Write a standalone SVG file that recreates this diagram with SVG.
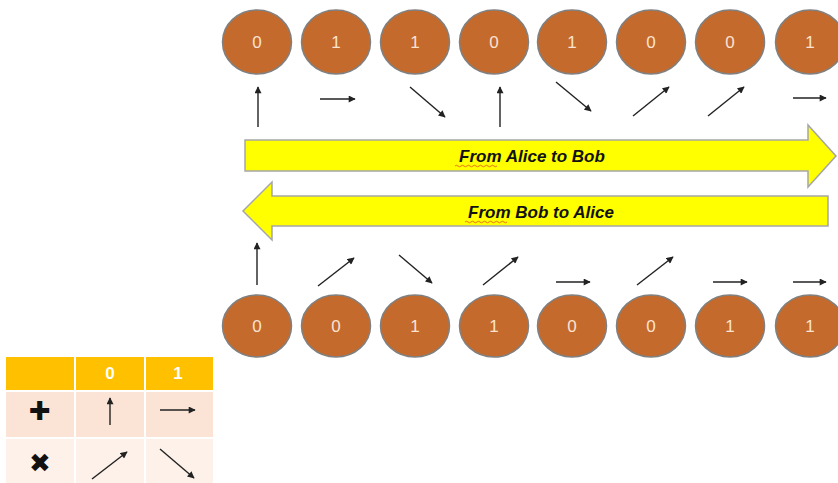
<svg xmlns="http://www.w3.org/2000/svg" width="838" height="483" viewBox="0 0 838 483">
<style>
.bit ellipse{fill:#C46A2C;stroke:#808080;stroke-width:1.5}
.bit text{font-family:"Liberation Sans",Arial,sans-serif;font-size:17px;fill:#FBE3D2;text-anchor:middle;dominant-baseline:central}
.pol line{stroke:#222;stroke-width:1.4;marker-end:url(#ah)}
.band{fill:#FFFF00;stroke:#A6A6A6;stroke-width:1.5}
.lbl{font-family:"Liberation Sans",Arial,sans-serif;font-weight:bold;font-style:italic;font-size:17px;fill:#111;text-anchor:middle}
.squig{fill:none;stroke:#E05020;stroke-width:0.8}
.hd{font-family:"Liberation Sans",Arial,sans-serif;font-weight:bold;font-size:17px;fill:#fff;text-anchor:middle}
.sym{font-family:"DejaVu Sans",sans-serif;font-size:26px;fill:#111;text-anchor:middle;dominant-baseline:central}
</style>
<defs>
<marker id="ah" viewBox="0 0 10 10" refX="9" refY="5" markerWidth="8" markerHeight="7" markerUnits="userSpaceOnUse" orient="auto">
<path d="M0,0 L10,5 L0,10 Z" fill="#222"/>
</marker>
</defs>
<rect width="838" height="483" fill="#fff"/>

<g id="alice-bits">
<g id="a1" class="bit"><ellipse cx="257" cy="42" rx="34.5" ry="32"/><text x="257" y="42">0</text></g>
<g id="a2" class="bit"><ellipse cx="336" cy="42" rx="34.5" ry="32"/><text x="336" y="42">1</text></g>
<g id="a3" class="bit"><ellipse cx="415" cy="42" rx="34.5" ry="32"/><text x="415" y="42">1</text></g>
<g id="a4" class="bit"><ellipse cx="494" cy="42" rx="34.5" ry="32"/><text x="494" y="42">0</text></g>
<g id="a5" class="bit"><ellipse cx="572" cy="42" rx="34.5" ry="32"/><text x="572" y="42">1</text></g>
<g id="a6" class="bit"><ellipse cx="651" cy="42" rx="34.5" ry="32"/><text x="651" y="42">0</text></g>
<g id="a7" class="bit"><ellipse cx="730" cy="42" rx="34.5" ry="32"/><text x="730" y="42">0</text></g>
<g id="a8" class="bit"><ellipse cx="810" cy="42" rx="34.5" ry="32"/><text x="810" y="42">1</text></g>
</g>

<g id="bob-bits">
<g id="b1" class="bit"><ellipse cx="257" cy="326" rx="34.5" ry="31"/><text x="257" y="326">0</text></g>
<g id="b2" class="bit"><ellipse cx="336" cy="326" rx="34.5" ry="31"/><text x="336" y="326">0</text></g>
<g id="b3" class="bit"><ellipse cx="415" cy="326" rx="34.5" ry="31"/><text x="415" y="326">1</text></g>
<g id="b4" class="bit"><ellipse cx="494" cy="326" rx="34.5" ry="31"/><text x="494" y="326">1</text></g>
<g id="b5" class="bit"><ellipse cx="572" cy="326" rx="34.5" ry="31"/><text x="572" y="326">0</text></g>
<g id="b6" class="bit"><ellipse cx="651" cy="326" rx="34.5" ry="31"/><text x="651" y="326">0</text></g>
<g id="b7" class="bit"><ellipse cx="730" cy="326" rx="34.5" ry="31"/><text x="730" y="326">1</text></g>
<g id="b8" class="bit"><ellipse cx="810" cy="326" rx="34.5" ry="31"/><text x="810" y="326">1</text></g>
</g>

<g id="polarizations" class="pol">
<line x1="258" y1="127" x2="258" y2="87"/>
<line x1="320" y1="99" x2="355" y2="99"/>
<line x1="410" y1="87" x2="445" y2="117"/>
<line x1="500" y1="127" x2="500" y2="87"/>
<line x1="556" y1="82" x2="591" y2="111"/>
<line x1="633" y1="116" x2="669" y2="87"/>
<line x1="708" y1="116" x2="744" y2="87"/>
<line x1="793" y1="98" x2="826" y2="98"/>

<line x1="257" y1="285" x2="257" y2="243"/>
<line x1="318" y1="286" x2="354" y2="258"/>
<line x1="399" y1="255" x2="432" y2="283"/>
<line x1="483" y1="285" x2="518" y2="257"/>
<line x1="556" y1="282" x2="590" y2="282"/>
<line x1="637" y1="285" x2="673" y2="257"/>
<line x1="713" y1="282" x2="747" y2="282"/>
<line x1="793" y1="282" x2="826" y2="282"/>
</g>

<g id="alice-to-bob">
<path class="band" d="M245,140 H808 V125 L836,156 L808,187 V171 H245 Z"/>
<text class="lbl" x="532" y="162">From Alice to Bob</text>
<path class="squig" d="M455,166 q1.5,-1.5 3,0 t3,0 t3,0 t3,0 t3,0 t3,0 t3,0 t3,0 t3,0 t3,0 t3,0 t3,0 t3,0 t3,0"/>
</g>

<g id="bob-to-alice">
<path class="band" d="M828,196 H272 V182 L243,211 L272,240 V226 H828 Z"/>
<text class="lbl" x="541" y="218">From Bob to Alice</text>
<path class="squig" d="M465,222 q1.5,-1.5 3,0 t3,0 t3,0 t3,0 t3,0 t3,0 t3,0 t3,0 t3,0 t3,0 t3,0 t3,0 t3,0 t3,0"/>
</g>

<g id="legend">
<rect x="6" y="357" width="207" height="33" fill="#FFC000"/>
<rect x="6" y="392" width="207" height="45" fill="#FBE4D5"/>
<rect x="6" y="439" width="207" height="44" fill="#FDF1E9"/>
<line x1="75" y1="357" x2="75" y2="483" stroke="#fff" stroke-width="2"/>
<line x1="145" y1="357" x2="145" y2="483" stroke="#fff" stroke-width="2"/>
<text class="hd" x="110" y="379">0</text>
<text class="hd" x="178" y="379">1</text>
<text class="sym" x="40" y="411">✚</text>
<text class="sym" x="40" y="463">✖</text>
<g class="pol">
<line x1="110" y1="425" x2="110" y2="398"/>
<line x1="160" y1="410" x2="195" y2="410"/>
<line x1="92" y1="479" x2="127" y2="452"/>
<line x1="160" y1="449" x2="194" y2="478"/>
</g>
</g>
</svg>
